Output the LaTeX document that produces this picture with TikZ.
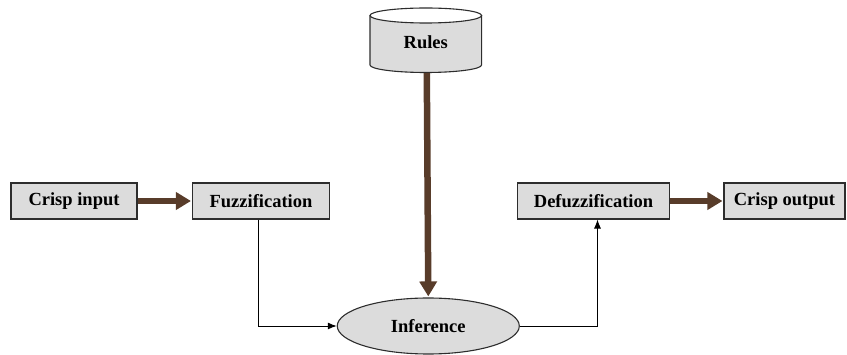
\documentclass[tikz,border=0pt]{standalone}
\usepackage{fontspec}
\setmainfont{Liberation Serif}
\usetikzlibrary{arrows.meta,shapes.geometric}
\definecolor{marble}{RGB}{220,220,220}
\definecolor{woodbrown}{RGB}{88,60,42}
\definecolor{edge}{RGB}{45,45,45}
\begin{document}
\begin{tikzpicture}[x=1pt,y=-1pt,
  lbl/.style={font=\fontsize{18.5}{20}\selectfont\bfseries},
  procbox/.style={lbl,draw=edge,line width=1.1pt,fill=marble,minimum height=36pt,inner sep=0pt},
  thickarrow/.style={draw=woodbrown,line width=6.5pt,-{Triangle[length=15pt,width=17pt]},shorten >=1pt},
  thinarrow/.style={draw=black,line width=0.9pt,-{Latex[length=9pt,width=7pt]}}]
\useasboundingbox (0,0) rectangle (847,355);
% boxes
\node[procbox,minimum width=126pt] (ci) at (74,201) {Crisp input};
\node[procbox,minimum width=137pt] (fz) at (261,201) {Fuzzification};
\node[procbox,minimum width=152pt] (dz) at (593.5,201) {Defuzzification};
\node[procbox,minimum width=121pt] (co) at (784.5,201) {Crisp output};
% inference
\node[lbl,ellipse,draw=edge,line width=1.1pt,fill=marble,minimum width=182pt,minimum height=56pt,inner sep=0pt] (inf) at (428.3,326) {Inference};
% rules cylinder
\fill[marble] (370,15.5) -- (370,65) arc[start angle=180,end angle=0,x radius=55.8,y radius=7.5] -- (481.6,15.5) arc[start angle=0,end angle=-180,x radius=55.8,y radius=7.5] -- cycle;
\draw[edge,line width=1.1pt,fill=white] (425.8,15.5) ellipse[x radius=55.8,y radius=7.5];
\draw[edge,line width=1.1pt] (370,15.5) -- (370,65) arc[start angle=180,end angle=0,x radius=55.8,y radius=7.5] -- (481.6,15.5);
\node[lbl] (rules) at (425.8,42) {Rules};
\coordinate (rulesbot) at (426.8,73);
% connectors
\draw[thickarrow] (ci.east) -- (fz.west);
\draw[thickarrow] (dz.east) -- (co.west);
\draw[thickarrow] (rulesbot) -- (inf.north);
\draw[thinarrow] (fz.south -| 258.5,0) |- (inf.west);
\draw[thinarrow] (inf.east) -| (dz.south -| 597.5,0);
\end{tikzpicture}
\end{document}
